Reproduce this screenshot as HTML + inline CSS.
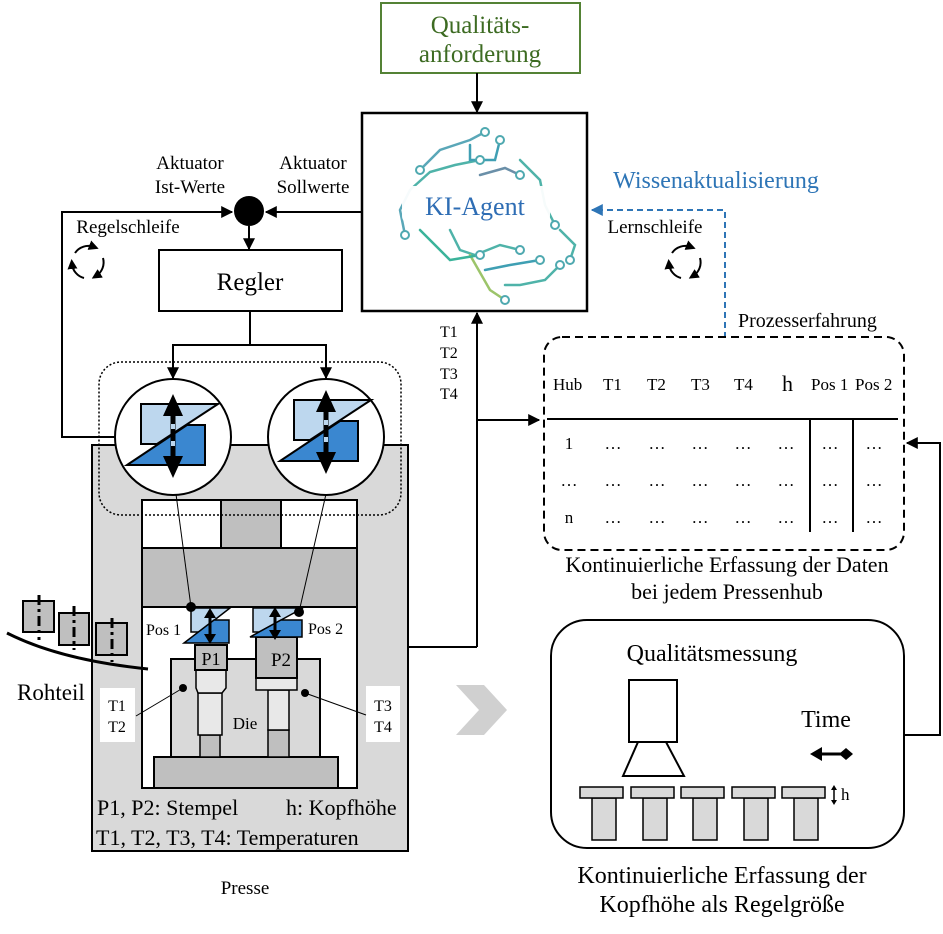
<!DOCTYPE html>
<html><head><meta charset="utf-8"><style>
body{margin:0;background:#fff}
svg{display:block}
text{font-family:"Liberation Serif",serif;fill:#000}
</style></head><body>
<svg width="943" height="934" viewBox="0 0 943 934" xmlns="http://www.w3.org/2000/svg">
<defs>
<marker id="ah" viewBox="0 0 10 10" refX="9" refY="5" markerWidth="6" markerHeight="6" orient="auto"><path d="M0,0L10,5L0,10z" fill="#000"/></marker>
<marker id="ahs" viewBox="0 0 10 10" refX="5" refY="5" markerWidth="5" markerHeight="5" orient="auto"><path d="M0,0L10,5L0,10z" fill="#000"/></marker>
<marker id="ahb" viewBox="0 0 10 10" refX="9" refY="5" markerWidth="6" markerHeight="6" orient="auto"><path d="M0,0L10,5L0,10z" fill="#2e75b6"/></marker>
<g id="act">
<polygon points="-32,-32 45,-32 -16,8 -32,8" fill="#bdd7ee" stroke="#000" stroke-width="2"/>
<polygon points="-46,29 32,29 32,-11 14,-11" fill="#3a87d0" stroke="#000" stroke-width="2"/>
<line x1="0" y1="-30" x2="0" y2="30" stroke="#000" stroke-width="5"/>
<polygon points="0,-42 -10,-20 10,-20" fill="#000"/>
<polygon points="0,42 -10,20 10,20" fill="#000"/>
<rect x="-2" y="-12" width="4" height="5" fill="#bdd7ee"/><rect x="-2" y="5" width="4" height="5" fill="#bdd7ee"/>
</g>
<g id="cyc" fill="none" stroke="#000" stroke-width="2">
<path d="M-13,-9 A16,16 0 0,1 6,-15" marker-end="url(#ahs)"/>
<path d="M15,-4 A16,16 0 0,1 8,14" marker-end="url(#ahs)"/>
<path d="M-4,16 A16,16 0 0,1 -16,2" marker-end="url(#ahs)"/>
</g>
</defs>

<!-- Qualitäts box -->
<rect x="381" y="3" width="199" height="70" fill="#fff" stroke="#548235" stroke-width="2"/>
<text x="480" y="33" font-size="25" text-anchor="middle" style="fill:#3d6b22">Qualitäts-</text>
<text x="480" y="62" font-size="25" text-anchor="middle" style="fill:#3d6b22">anforderung</text>
<line x1="477" y1="73" x2="477" y2="112" stroke="#000" stroke-width="2" marker-end="url(#ah)"/>

<!-- KI box -->
<rect x="362" y="113" width="225" height="198" fill="#fff" stroke="#000" stroke-width="2.5"/>
<g fill="none" stroke-width="2.5" stroke-linecap="round">
<polyline points="420,170 440,150 470,140 485,132" stroke="#5aa7b8"/>
<polyline points="410,190 430,172 455,165 480,160" stroke="#4fb3a9"/>
<polyline points="405,235 400,210 410,190" stroke="#5aa7b8"/>
<polyline points="470,145 470,160 495,160 500,140" stroke="#3f9fb3"/>
<polyline points="480,175 505,168 520,175" stroke="#6a8fa8"/>
<polyline points="520,160 540,180 545,205 555,225" stroke="#4fb3a9"/>
<polyline points="450,230 460,250 475,255 500,245 520,250" stroke="#4fb3a9"/>
<polyline points="485,270 510,265 540,260" stroke="#3f9fb3"/>
<polyline points="505,285 520,285 545,280 560,265" stroke="#4fb3a9"/>
<polyline points="470,255 490,290 505,300" stroke="#9cc46a"/>
<polyline points="420,230 450,260 480,255" stroke="#3ab39a"/>
<polyline points="560,230 575,245 570,260" stroke="#4fb3a9"/>
</g>
<g fill="#fff" stroke="#4fa9b0" stroke-width="2">
<circle cx="485" cy="132" r="4"/><circle cx="420" cy="170" r="4"/><circle cx="480" cy="160" r="4"/><circle cx="500" cy="140" r="4"/>
<circle cx="520" cy="175" r="4"/><circle cx="405" cy="235" r="4"/><circle cx="520" cy="250" r="4"/><circle cx="540" cy="260" r="4"/>
<circle cx="505" cy="300" r="4"/><circle cx="560" cy="265" r="4"/><circle cx="480" cy="255" r="4"/><circle cx="555" cy="225" r="4"/><circle cx="570" cy="260" r="4"/>
</g>
<rect x="402" y="186" width="148" height="38" rx="8" fill="#fff" opacity="0.95"/>
<text x="475" y="215" font-size="26" text-anchor="middle" style="fill:#2e6db4">KI-Agent</text>
<line x1="477" y1="647" x2="477" y2="313" stroke="#000" stroke-width="2" marker-end="url(#ah)"/>

<!-- Wissenaktualisierung -->
<text x="716" y="188" font-size="24" text-anchor="middle" style="fill:#2e75b6">Wissenaktualisierung</text>
<polyline points="725,338 725,210 592,210" fill="none" stroke="#2e75b6" stroke-width="2" stroke-dasharray="6,4" marker-end="url(#ahb)"/>
<text x="655" y="233" font-size="19" text-anchor="middle">Lernschleife</text>
<use href="#cyc" x="685" y="262"/>

<!-- Aktuator labels & junction -->
<text x="190" y="169" font-size="19" text-anchor="middle">Aktuator</text>
<text x="190" y="193" font-size="19" text-anchor="middle">Ist-Werte</text>
<text x="313" y="169" font-size="19" text-anchor="middle">Aktuator</text>
<text x="313" y="193" font-size="19" text-anchor="middle">Sollwerte</text>
<circle cx="249" cy="211" r="15" fill="#000"/>
<line x1="362" y1="212" x2="266" y2="212" stroke="#000" stroke-width="2" marker-end="url(#ah)"/>
<polyline points="117,437 62,437 62,212 232,212" fill="none" stroke="#000" stroke-width="2" marker-end="url(#ah)"/>
<line x1="249" y1="226" x2="249" y2="249" stroke="#000" stroke-width="2" marker-end="url(#ah)"/>
<text x="128" y="233" font-size="19" text-anchor="middle">Regelschleife</text>
<use href="#cyc" x="88" y="262"/>

<!-- Regler -->
<rect x="159" y="250" width="183" height="61" fill="#fff" stroke="#000" stroke-width="2"/>
<text x="250" y="290" font-size="25" text-anchor="middle">Regler</text>
<polyline points="250,311 250,345" fill="none" stroke="#000" stroke-width="2"/>
<polyline points="173,378 173,345 326,345 326,378" fill="none" stroke="#000" stroke-width="2"/>
<line x1="173" y1="360" x2="173" y2="378" stroke="#000" stroke-width="2" marker-end="url(#ah)"/>
<line x1="326" y1="360" x2="326" y2="378" stroke="#000" stroke-width="2" marker-end="url(#ah)"/>

<!-- Press -->
<rect x="92" y="445" width="316" height="406" fill="#d9d9d9" stroke="#000" stroke-width="2"/>
<rect x="142" y="500" width="215" height="288" fill="#fff" stroke="#000" stroke-width="2"/>
<rect x="221" y="500" width="60" height="48" fill="#bfbfbf" stroke="#000" stroke-width="2"/>
<rect x="142" y="548" width="215" height="59" fill="#bfbfbf" stroke="#000" stroke-width="2"/>
<rect x="171" y="659" width="149" height="98" fill="#d9d9d9" stroke="#000" stroke-width="2"/>
<rect x="154" y="757" width="184" height="31" fill="#bfbfbf" stroke="#000" stroke-width="2"/>
<!-- P1 -->
<rect x="200" y="735" width="20" height="22" fill="#bfbfbf" stroke="#000" stroke-width="1.5"/>
<rect x="198" y="693" width="24" height="42" fill="#e8e8e8" stroke="#000" stroke-width="1.5"/>
<polygon points="196,670 226,670 226,688 222,693 198,693 196,688" fill="#e8e8e8" stroke="#000" stroke-width="1.5"/>
<rect x="195" y="645" width="32" height="25" fill="#bfbfbf" stroke="#000" stroke-width="2"/>
<text x="211" y="665" font-size="18" text-anchor="middle">P1</text>
<!-- P2 -->
<rect x="268" y="730" width="21" height="27" fill="#bfbfbf" stroke="#000" stroke-width="1.5"/>
<rect x="268" y="690" width="21" height="40" fill="#e8e8e8" stroke="#000" stroke-width="1.5"/>
<rect x="256" y="678" width="41" height="12" fill="#e8e8e8" stroke="#000" stroke-width="1.5"/>
<rect x="256" y="637" width="41" height="41" fill="#bfbfbf" stroke="#000" stroke-width="2"/>
<text x="281" y="666" font-size="19" text-anchor="middle">P2</text>
<text x="245" y="729" font-size="17" text-anchor="middle">Die</text>
<!-- small actuators -->
<polygon points="191,608 230,608 199,632 191,632" fill="#bdd7ee" stroke="#000" stroke-width="1.5"/>
<polygon points="184,643 229,643 229,620 214,620" fill="#3a87d0" stroke="#000" stroke-width="1.5"/>
<line x1="210" y1="614" x2="210" y2="638" stroke="#000" stroke-width="3"/>
<polygon points="210,608 204,618 216,618" fill="#000"/><polygon points="210,644 204,634 216,634" fill="#000"/>
<polygon points="253,608 303,608 259,632 253,632" fill="#bdd7ee" stroke="#000" stroke-width="1.5"/>
<polygon points="250,637 302,637 302,620 281,620" fill="#3a87d0" stroke="#000" stroke-width="1.5"/>
<line x1="275" y1="614" x2="275" y2="634" stroke="#000" stroke-width="3"/>
<polygon points="275,607 269,617 281,617" fill="#000"/><polygon points="275,640 269,630 281,630" fill="#000"/>
<text x="146" y="635" font-size="16">Pos 1</text>
<text x="308" y="634" font-size="16">Pos 2</text>
<circle cx="191" cy="607" r="5" fill="#000"/><circle cx="299" cy="612" r="5" fill="#000"/>
<line x1="191" y1="607" x2="176" y2="494" stroke="#000" stroke-width="1"/>
<line x1="299" y1="612" x2="326" y2="494" stroke="#000" stroke-width="1"/>
<!-- T labels -->
<rect x="100" y="688" width="35" height="54" fill="#fff"/>
<text x="117" y="711" font-size="16" text-anchor="middle">T1</text>
<text x="117" y="732" font-size="16" text-anchor="middle">T2</text>
<rect x="366" y="686" width="34" height="56" fill="#fff"/>
<text x="383" y="711" font-size="16" text-anchor="middle">T3</text>
<text x="383" y="732" font-size="16" text-anchor="middle">T4</text>
<circle cx="183" cy="688" r="4" fill="#000"/><circle cx="305" cy="693" r="4" fill="#000"/>
<line x1="183" y1="688" x2="136" y2="716" stroke="#000" stroke-width="1"/>
<line x1="305" y1="693" x2="366" y2="715" stroke="#000" stroke-width="1"/>
<text x="97" y="815" font-size="22">P1, P2: Stempel</text>
<text x="286" y="815" font-size="22">h: Kopfhöhe</text>
<text x="96" y="845" font-size="22">T1, T2, T3, T4: Temperaturen</text>
<text x="245" y="894" font-size="19" text-anchor="middle">Presse</text>

<!-- dotted actuator group + circles -->
<rect x="99" y="362" width="302" height="153" rx="22" fill="none" stroke="#000" stroke-width="1.5" stroke-dasharray="2,2"/>
<circle cx="173" cy="437" r="58" fill="#fff" stroke="#000" stroke-width="2"/>
<g transform="translate(173,436)"><use href="#act"/></g>
<circle cx="326" cy="437" r="58" fill="#fff" stroke="#000" stroke-width="2"/>
<g transform="translate(326,432)"><use href="#act"/></g>

<!-- Rohteil -->
<g fill="#bfbfbf" stroke="#000" stroke-width="2">
<rect x="23" y="601" width="31" height="31"/><rect x="59" y="613" width="30" height="32"/><rect x="96" y="623" width="31" height="32"/>
</g>
<g stroke="#000" stroke-width="3" stroke-dasharray="10,4,3,4">
<line x1="39" y1="595" x2="39" y2="640"/><line x1="74" y1="606" x2="74" y2="650"/><line x1="112" y1="618" x2="112" y2="662"/>
</g>
<path d="M7,633 Q60,660 148,669" fill="none" stroke="#000" stroke-width="3"/>
<text x="17" y="700" font-size="23">Rohteil</text>

<!-- T labels near arrow -->
<text x="440" y="337" font-size="16">T1</text>
<text x="440" y="358" font-size="16">T2</text>
<text x="440" y="379" font-size="16">T3</text>
<text x="440" y="399" font-size="16">T4</text>
<line x1="408" y1="647" x2="477" y2="647" stroke="#000" stroke-width="2"/>
<line x1="477" y1="420" x2="539" y2="420" stroke="#000" stroke-width="2" marker-end="url(#ah)"/>

<!-- gray arrow -->
<polygon points="456,685 484,685 507,710 484,735 456,735 479,710" fill="#d0d0d0"/>

<!-- Table -->
<text x="738" y="327" font-size="20">Prozesserfahrung</text>
<rect x="544" y="337" width="360" height="213" rx="18" fill="none" stroke="#000" stroke-width="2" stroke-dasharray="8,5"/>
<g font-size="17">
<text x="553" y="390">Hub</text><text x="603" y="390">T1</text><text x="647" y="390">T2</text><text x="691" y="390">T3</text><text x="734" y="390">T4</text>
<text x="782" y="391" font-size="22">h</text><text x="811" y="390">Pos 1</text><text x="855" y="390">Pos 2</text>
</g>
<line x1="547" y1="419" x2="898" y2="419" stroke="#000" stroke-width="2"/>
<line x1="810" y1="419" x2="810" y2="532" stroke="#000" stroke-width="2"/>
<line x1="853" y1="419" x2="853" y2="532" stroke="#000" stroke-width="2"/>
<g font-size="17" text-anchor="middle">
<text x="569" y="449">1</text><text x="569" y="486">…</text><text x="569" y="523">n</text>
<text x="613" y="449">…</text><text x="657" y="449">…</text><text x="700" y="449">…</text><text x="743" y="449">…</text><text x="786" y="449">…</text><text x="830" y="449">…</text><text x="874" y="449">…</text>
<text x="613" y="486">…</text><text x="657" y="486">…</text><text x="700" y="486">…</text><text x="743" y="486">…</text><text x="786" y="486">…</text><text x="830" y="486">…</text><text x="874" y="486">…</text>
<text x="613" y="523">…</text><text x="657" y="523">…</text><text x="700" y="523">…</text><text x="743" y="523">…</text><text x="786" y="523">…</text><text x="830" y="523">…</text><text x="874" y="523">…</text>
</g>
<text x="727" y="572" font-size="22" text-anchor="middle">Kontinuierliche Erfassung der Daten</text>
<text x="727" y="599" font-size="22" text-anchor="middle">bei jedem Pressenhub</text>
<polyline points="904,735 940,735 940,443 907,443" fill="none" stroke="#000" stroke-width="2" marker-end="url(#ah)"/>

<!-- Qualitätsmessung -->
<rect x="551" y="620" width="353" height="228" rx="36" fill="#fff" stroke="#000" stroke-width="2"/>
<text x="712" y="661" font-size="24" text-anchor="middle">Qualitätsmessung</text>
<rect x="629" y="680" width="48" height="62" fill="#fff" stroke="#000" stroke-width="2"/>
<polygon points="638,742 666,742 684,776 623,776" fill="#fff" stroke="#000" stroke-width="2"/>
<text x="826" y="727" font-size="24" text-anchor="middle">Time</text>
<line x1="818" y1="754" x2="846" y2="754" stroke="#000" stroke-width="3"/>
<polygon points="810,754 822,747 822,761" fill="#000"/>
<polygon points="846,748 853,754 846,760 839,754" fill="#000"/>
<g fill="#d9d9d9" stroke="#000" stroke-width="1.5">
<rect x="592" y="798" width="24" height="42"/><rect x="580" y="787" width="43" height="11"/>
<rect x="643" y="798" width="24" height="42"/><rect x="631" y="787" width="43" height="11"/>
<rect x="693" y="798" width="24" height="42"/><rect x="681" y="787" width="43" height="11"/>
<rect x="744" y="798" width="24" height="42"/><rect x="732" y="787" width="43" height="11"/>
<rect x="794" y="798" width="24" height="42"/><rect x="782" y="787" width="43" height="11"/>
</g>
<line x1="834" y1="790" x2="834" y2="801" stroke="#000" stroke-width="1.5"/>
<polygon points="834,785 831,790 837,790" fill="#000"/><polygon points="834,805 831,800 837,800" fill="#000"/>
<text x="841" y="800" font-size="17">h</text>
<text x="722" y="883" font-size="24" text-anchor="middle">Kontinuierliche Erfassung der</text>
<text x="722" y="912" font-size="24" text-anchor="middle">Kopfhöhe als Regelgröße</text>
</svg>
</body></html>
